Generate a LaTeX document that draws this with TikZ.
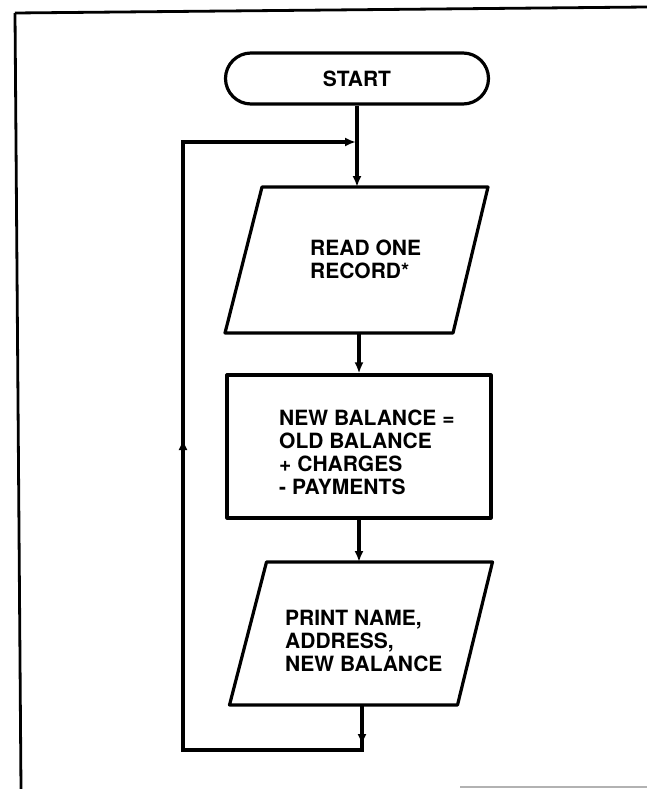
\documentclass[tikz,border=0pt]{standalone}
\usepackage{fontspec}
\setmainfont{TeX Gyre Heros}
\usetikzlibrary{shapes.misc,arrows.meta,decorations.markings}
\begin{document}
\begin{tikzpicture}[x=1pt,y=-1pt,
  tip/.tip={Latex[length=11pt,width=9pt]},
  boxline/.style={draw, line width=3.2pt, line join=round},
  flow/.style={line width=3.4pt},
  frameline/.style={line width=2.8pt},
  lbl/.style={font=\bfseries\fontsize{21}{23}\selectfont, align=left, inner sep=0pt, anchor=west},
  terminal/.style={rounded rectangle, boxline, minimum width=263pt, minimum height=51pt, inner sep=0pt, font=\bfseries\fontsize{21}{23}\selectfont},
  proc/.style={rectangle, boxline, minimum width=264pt, minimum height=143pt, inner sep=0pt},
  iobox/.style={rectangle, minimum width=263pt, inner sep=0pt, outer sep=0pt}
]
\useasboundingbox (0,0) rectangle (647,789);
% frame
\draw[frameline] (15,13) -- (647,7);
\draw[frameline] (15,13) -- (21,789);
\draw[gray!60, line width=1.8pt] (460,787) -- (647,787);

% nodes
\node[terminal] (start) at (357,78.5) {START};

\node[iobox, minimum height=146pt] (read) at (356.5,260) {};
\draw[boxline] ([xshift=37pt]read.north west) -- (read.north east)
  -- ([xshift=-35pt]read.south east) -- (read.south west) -- cycle;
\node[lbl] (readtxt) at (310,259) {READ ONE\\RECORD*};

\node[proc] (calc) at (359,446.5) {};
\node[lbl] (calctxt) at (279,452) {NEW BALANCE =\\OLD BALANCE\\+ CHARGES\\- PAYMENTS};

\node[iobox, minimum height=143pt] (print) at (361,633.5) {};
\draw[boxline] ([xshift=37pt]print.north west) -- (print.north east)
  -- ([xshift=-35pt]print.south east) -- (print.south west) -- cycle;
\node[lbl] (printtxt) at (285,641) {PRINT NAME,\\ADDRESS,\\NEW BALANCE};

% loop coordinates
\coordinate (junc) at (356,142);
\coordinate (lbr) at (362,750);
\coordinate (lbl) at (183,750);
\coordinate (ltl) at (183,142);

% connectors
\draw[flow,-tip] (start.south) -- (read.north -| start.south);
\draw[flow,-tip] (read.south -| calc.north) -- (calc.north);
\draw[flow,-tip] (calc.south) -- (print.north -| calc.south);
\draw[flow,-tip, line join=miter, postaction=decorate,
  decoration={markings,
    mark=at position 40pt with {\arrow{tip}},
    mark=at position 535pt with {\arrow{tip}}}]
  (print.south -| lbr) -- (lbr) -- (lbl) -- (ltl) -- (junc);
\end{tikzpicture}
\end{document}
